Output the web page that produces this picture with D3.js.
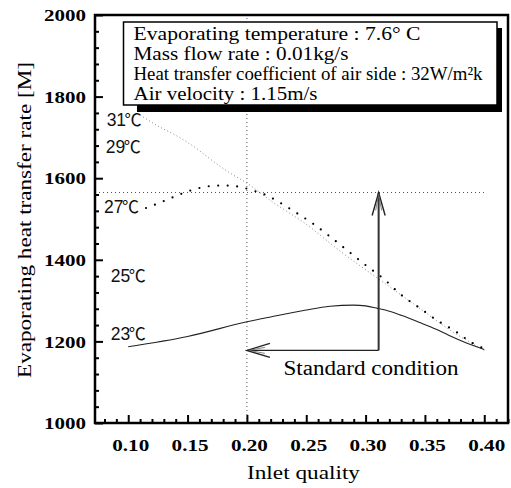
<!DOCTYPE html>
<html><head><meta charset="utf-8">
<script src="https://cdn.jsdelivr.net/npm/d3@7"></script>
<style>
html,body{margin:0;padding:0;background:#fff;}
svg{display:block;}
</style></head>
<body>
<svg id="c" width="511" height="488"></svg>
<script>
// ---- data ----
const xTicks = [0.10, 0.15, 0.20, 0.25, 0.30, 0.35, 0.40];
const yTicks = [1000, 1200, 1400, 1600, 1800, 2000];
// 23 C : solid line
const q23 = [0.10, 0.15, 0.20, 0.22, 0.25, 0.27, 0.29, 0.30, 0.31, 0.32, 0.33, 0.345, 0.36, 0.37, 0.385, 0.40];
const v23 = [1187, 1212, 1248, 1260, 1277, 1286, 1289, 1287, 1281, 1274, 1264, 1247, 1229, 1215, 1196, 1180];
// 27 C : heavy dotted line
const q27 = [0.115, 0.125, 0.135, 0.145, 0.155, 0.165, 0.175, 0.185, 0.195, 0.205, 0.215, 0.225, 0.24, 0.255, 0.27, 0.285, 0.30, 0.315, 0.33, 0.345, 0.36, 0.375, 0.39, 0.40];
const v27 = [1527, 1538, 1550, 1562, 1572, 1579, 1582, 1582, 1578, 1570, 1560, 1545, 1518, 1490, 1457, 1422, 1387, 1354, 1314, 1283, 1252, 1226, 1196, 1182];
// 31 C : fine dotted line
const q31 = [0.11, 0.125, 0.14, 0.155, 0.17, 0.185, 0.20, 0.22, 0.25, 0.28, 0.31, 0.34, 0.37, 0.40];
const v31 = [1755, 1728, 1705, 1678, 1645, 1614, 1588, 1545, 1487, 1418, 1355, 1293, 1230, 1178];
// temperature labels
const tempLabels = ["31", "29", "27", "25", "23"];
const tempUnit = "℃";
const tempLabelQ = [0.0818, 0.0810, 0.0796, 0.0852, 0.0852];
const tempLabelV = [1743, 1678, 1530, 1362, 1220];
// standard condition
const stdQ = 0.311, stdV = 1178, refV = 1565, refQ = 0.20, refLineEndQ = 0.40;
const infoLines = ["Evaporating temperature : 7.6° C", "Mass flow rate : 0.01kg/s",
  "Heat transfer coefficient of air side : 32W/m²k", "Air velocity : 1.15m/s"];

// ---- chart ----
const svg = d3.select("#c");
const x = d3.scaleLinear().domain([0.072, 0.42]).range([95, 508]);
const y = d3.scaleLinear().domain([1000, 2000]).range([423, 15]);
const serif = "'Liberation Serif', 'Times New Roman', serif";

function fit(sel, target, size, minSize) {
  sel.each(function () {
    const t = d3.select(this);
    t.attr("font-size", size);
    const w = this.getComputedTextLength();
    let s = size;
    if (w > target) s = Math.max(minSize, size * target / w);
    t.attr("font-size", s).attr("textLength", target).attr("lengthAdjust", "spacingAndGlyphs");
  });
}

// reference dotted lines
svg.append("line").attr("x1", x(refQ)).attr("x2", x(refQ)).attr("y1", y(1000)).attr("y2", y(2000))
  .attr("stroke", "#555").attr("stroke-width", 1).attr("stroke-dasharray", "1,3");
svg.append("line").attr("x1", x(0.072)).attr("x2", x(refLineEndQ)).attr("y1", y(refV)).attr("y2", y(refV))
  .attr("stroke", "#555").attr("stroke-width", 1).attr("stroke-dasharray", "1,3");

const line = d3.line().x(d => x(d[0])).y(d => y(d[1])).curve(d3.curveMonotoneX);
svg.append("path").datum(d3.zip(q31, v31)).attr("d", line)
  .attr("fill", "none").attr("stroke", "#888").attr("stroke-width", 1).attr("stroke-dasharray", "1,2.5");
svg.append("path").datum(d3.zip(q27, v27)).attr("d", line)
  .attr("fill", "none").attr("stroke", "#000").attr("stroke-width", 2.2)
  .attr("stroke-linecap", "round").attr("stroke-dasharray", "0,9.5");
svg.append("path").datum(d3.zip(q23, v23)).attr("d", line)
  .attr("fill", "none").attr("stroke", "#222").attr("stroke-width", 1.1);

// standard condition arrows
const sx = x(stdQ), sy = y(stdV), ty = y(refV), tx = x(refQ);
svg.append("path").attr("d", `M${sx},${sy}V${ty}`).attr("stroke", "#333").attr("stroke-width", 2).attr("fill", "none");
svg.append("path").attr("d", `M${sx},${sy}H${tx}`).attr("stroke", "#222").attr("stroke-width", 1.3).attr("fill", "none");
svg.append("path").attr("d", `M${sx-6.5},${ty+23}L${sx},${ty}L${sx+6.5},${ty+23}`).attr("stroke", "#222").attr("stroke-width", 1.4).attr("fill", "none");
svg.append("path").attr("d", `M${sx-3},${ty+18}L${sx},${ty+2}L${sx+3},${ty+18}`).attr("stroke", "#666").attr("stroke-width", 0.8).attr("fill", "none");
svg.append("path").attr("d", `M${tx+23},${sy-7}L${tx},${sy}L${tx+23},${sy+7}`).attr("stroke", "#222").attr("stroke-width", 1.4).attr("fill", "none");
svg.append("path").attr("d", `M${tx+18},${sy-3}L${tx+2},${sy}L${tx+18},${sy+3}`).attr("stroke", "#666").attr("stroke-width", 0.8).attr("fill", "none");
svg.append("text").attr("x", 283.5).attr("y", 375).attr("font-family", serif).attr("fill", "#000")
  .text("Standard condition").call(fit, 175, 20, 17);

// temperature labels (number + degree sign)
const tl = svg.selectAll("text.tl").data(tempLabels).enter().append("text").attr("class", "tl")
  .attr("x", (d, i) => x(tempLabelQ[i])).attr("y", (d, i) => y(tempLabelV[i]))
  .attr("dy", "0.36em").attr("font-size", 18).attr("fill", "#111");
tl.append("tspan").attr("font-family", "'Liberation Sans', Arial, sans-serif").attr("font-size", 17.5).text(d => d);
tl.append("tspan").attr("font-family", "'Noto Sans CJK JP', sans-serif").attr("font-size", 17).attr("dx", -1.5).text(tempUnit);

// axes: ticks
const minorX = d3.range(8, 43).map(d => d / 100).filter(d => !xTicks.some(t => Math.abs(t - d) < 1e-9));
const minorY = d3.range(1000, 2001, 40).filter(d => d % 200 !== 0);
const gx = svg.append("g").attr("transform", `translate(0,${y(1000)})`);
gx.call(d3.axisBottom(x).tickValues(minorX).tickSize(-4).tickFormat(""));
gx.select(".domain").remove();
const gx2 = svg.append("g").attr("transform", `translate(0,${y(1000)})`);
gx2.call(d3.axisBottom(x).tickValues(xTicks).tickSize(-8).tickPadding(16).tickFormat(d3.format(".2f")));
gx2.select(".domain").remove();
const gy = svg.append("g").attr("transform", `translate(${x(0.072)},0)`);
gy.call(d3.axisLeft(y).tickValues(minorY).tickSize(-4).tickFormat(""));
gy.select(".domain").remove();
const gy2 = svg.append("g").attr("transform", `translate(${x(0.072)},0)`);
gy2.call(d3.axisLeft(y).tickValues(yTicks).tickSize(-8).tickPadding(9).tickFormat(d3.format("d")));
gy2.select(".domain").remove();
svg.selectAll(".tick line").attr("stroke", "#000").attr("stroke-width", 2);
svg.selectAll(".tick text").attr("font-family", serif).attr("fill", "#000").attr("font-weight", "bold");
gx2.selectAll(".tick text").attr("dx", 2).call(fit, 37, 17.5, 15);
gy2.selectAll(".tick text").call(fit, 42, 17.5, 15);

// frame
svg.append("rect").attr("x", x(0.072)).attr("y", y(2000)).attr("width", x(0.42) - x(0.072)).attr("height", y(1000) - y(2000))
  .attr("fill", "none").attr("stroke", "#000").attr("stroke-width", 2.5);

// info box with shadow
svg.append("rect").attr("x", 137).attr("y", 28).attr("width", 365).attr("height", 84).attr("fill", "#000");
svg.append("rect").attr("x", 123.5).attr("y", 22).attr("width", 373.5).attr("height", 83)
  .attr("fill", "#fff").attr("stroke", "#000").attr("stroke-width", 1.5);
const infoW = [287, 215, 349, 184];
svg.selectAll("text.info").data(infoLines).enter().append("text").attr("class", "info")
  .attr("x", 133.5).attr("y", (d, i) => 39.5 + i * 20.2)
  .attr("font-family", serif).attr("fill", "#000").text(d => d)
  .each(function (d, i) { d3.select(this).call(fit, infoW[i], 19.5, 16.5); });

// axis titles
svg.append("text").attr("x", 247).attr("y", 479)
  .attr("font-family", serif).text("Inlet quality").call(fit, 113, 19, 16);
svg.append("text").attr("transform", "translate(31,378) rotate(-90)")
  .attr("font-family", serif).text("Evaporating heat transfer rate [M]").call(fit, 316, 19, 16);
</script>
</body></html>
